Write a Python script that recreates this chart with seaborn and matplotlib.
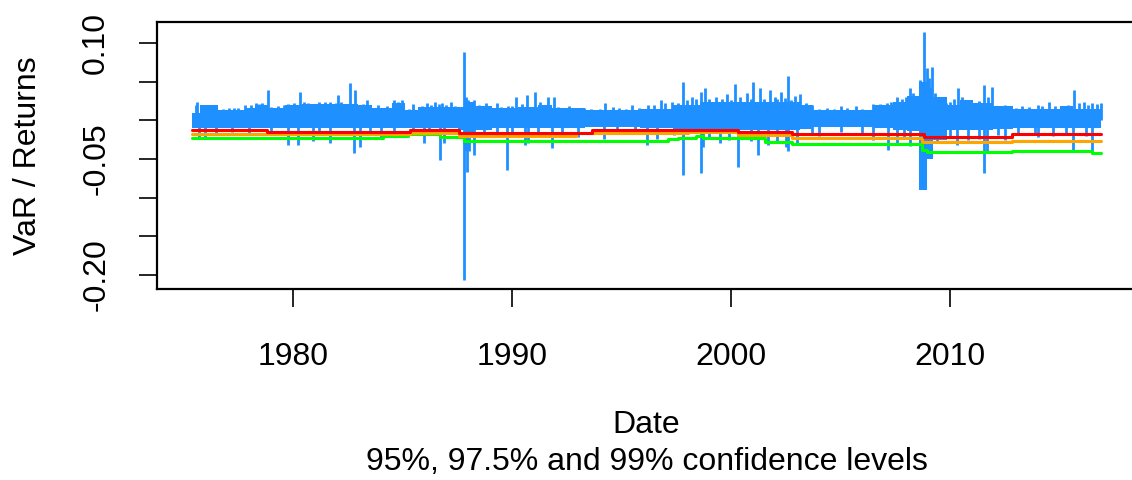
import numpy as np
import pandas as pd
import matplotlib
matplotlib.use("Agg")
import matplotlib.pyplot as plt
import seaborn as sns

# ---- data (decimal years, returns) ----
# dense body of daily returns (upper / lower envelope, step segments)
band_years = [1975.40, 1975.75, 1976.59, 1977.81, 1978.27, 1978.88, 1979.64, 1980.40, 1982.98,
              1983.59, 1984.51, 1985.12, 1985.72, 1987.55, 1987.80, 1988.10, 1988.31, 1989.07,
              1990.29, 1991.20, 1991.81, 1993.33, 1995.84, 1997.36, 1998.58, 2000.25, 2003.15,
              2003.75, 2006.49, 2007.41, 2008.02, 2008.60, 2008.95, 2009.23, 2009.84, 2010.45,
              2011.06, 2011.97, 2012.89, 2015.02, 2015.63, 2016.89]
band_hi = [0.010, 0.0196, 0.013, 0.0153, 0.0196, 0.0153, 0.0196, 0.021, 0.0196,
           0.0153, 0.022, 0.013, 0.0175, 0.017, 0.023, 0.023, 0.0185, 0.0153,
           0.0175, 0.020, 0.0153, 0.013, 0.0142, 0.0196, 0.024, 0.024, 0.0196,
           0.013, 0.0196, 0.024, 0.032, 0.050, 0.042, 0.030, 0.0196, 0.026,
           0.022, 0.018, 0.014, 0.018, 0.015, 0.015]
band_lo = [-0.010, -0.010, -0.010, -0.010, -0.010, -0.010, -0.010, -0.010, -0.010,
           -0.010, -0.010, -0.010, -0.010, -0.012, -0.040, -0.020, -0.012, -0.010,
           -0.010, -0.010, -0.010, -0.009, -0.010, -0.011, -0.013, -0.013, -0.011,
           -0.009, -0.010, -0.012, -0.014, -0.090, -0.050, -0.025, -0.013, -0.013,
           -0.012, -0.011, -0.010, -0.010, -0.010, -0.010]

up_years = [1975.6, 1976.0, 1976.5, 1977.3, 1977.81, 1978.3, 1978.6, 1978.86, 1979.6, 1979.9,
            1980.32, 1980.7, 1981.2, 1981.7, 1982.05, 1982.35, 1982.60, 1982.83, 1983.4, 1983.9,
            1984.61, 1984.98, 1985.5, 1986.1, 1986.5, 1986.8, 1987.2, 1987.81, 1987.9, 1988.26,
            1988.8, 1989.3, 1989.8, 1990.2, 1990.68, 1991.05, 1991.64, 1991.9, 1992.6, 1993.3,
            1994.25, 1994.9, 1995.48, 1996.2, 1996.8, 1997.3, 1997.81, 1998.2, 1998.63, 1998.81,
            1999.3, 1999.82, 2000.18, 2000.4, 2000.73, 2001.0, 2001.32, 2001.78, 2002.0, 2002.28,
            2002.6, 2002.9, 2003.15, 2003.7, 2004.4, 2005.0, 2005.7, 2006.5, 2007.1, 2007.6,
            2008.0, 2008.17, 2008.5, 2008.81, 2008.95, 2009.18, 2009.6, 2010.0, 2010.37, 2010.7,
            2011.1, 2011.55, 2011.92, 2012.5, 2013.3, 2014.0, 2014.5, 2015.2, 2015.66, 2016.1,
            2016.5, 2016.89,
            1975.55, 1975.9, 1976.2, 1976.8, 1977.1, 1977.5, 1978.1, 1978.45, 1979.0, 1979.3,
            1979.75, 1980.05, 1980.5, 1980.95, 1981.45, 1981.95, 1982.2, 1983.2, 1983.7, 1984.3,
            1984.8, 1985.3, 1985.9, 1986.3, 1986.65, 1987.0, 1987.4, 1988.0, 1988.5, 1989.0,
            1989.5, 1990.0, 1990.45, 1991.3, 1992.1, 1992.9, 1993.6, 1994.0, 1994.6, 1995.2,
            1995.8, 1996.5, 1997.0, 1997.6, 1998.0, 1998.4, 1999.0, 1999.6, 2000.0, 2000.9,
            2001.5, 2002.1, 2002.45, 2002.75, 2003.4, 2004.0, 2004.7, 2005.3, 2006.0, 2006.8,
            2007.3, 2007.8, 2008.3, 2008.65, 2009.05, 2009.3, 2009.8, 2010.2, 2010.55, 2010.9,
            2011.3, 2011.75, 2012.2, 2012.7, 2013.0, 2013.6, 2014.2, 2014.8, 2015.4, 2015.9,
            2016.3, 2016.7]
up_vals = [0.024, 0.018, 0.017, 0.016, 0.020, 0.022, 0.022, 0.039, 0.020, 0.020,
           0.037, 0.022, 0.024, 0.024, 0.033, 0.021, 0.048, 0.039, 0.026, 0.020,
           0.026, 0.026, 0.021, 0.022, 0.024, 0.022, 0.024, 0.088, 0.030, 0.026,
           0.022, 0.022, 0.018, 0.030, 0.033, 0.037, 0.030, 0.030, 0.018, 0.016,
           0.022, 0.016, 0.020, 0.020, 0.026, 0.024, 0.049, 0.030, 0.037, 0.042,
           0.030, 0.034, 0.047, 0.030, 0.035, 0.049, 0.042, 0.039, 0.030, 0.037,
           0.057, 0.032, 0.034, 0.020, 0.016, 0.018, 0.018, 0.021, 0.022, 0.030,
           0.030, 0.042, 0.031, 0.114, 0.068, 0.069, 0.030, 0.024, 0.042, 0.026,
           0.022, 0.046, 0.043, 0.020, 0.018, 0.020, 0.023, 0.018, 0.039, 0.024,
           0.022, 0.022,
           0.020, 0.016, 0.015, 0.014, 0.016, 0.016, 0.020, 0.021, 0.017, 0.018,
           0.021, 0.022, 0.023, 0.021, 0.023, 0.022, 0.024, 0.021, 0.016, 0.018,
           0.024, 0.015, 0.019, 0.020, 0.021, 0.020, 0.019, 0.026, 0.020, 0.019,
           0.017, 0.019, 0.021, 0.024, 0.017, 0.016, 0.014, 0.015, 0.017, 0.015,
           0.016, 0.020, 0.022, 0.022, 0.026, 0.028, 0.027, 0.028, 0.026, 0.027,
           0.028, 0.027, 0.029, 0.026, 0.022, 0.015, 0.015, 0.016, 0.015, 0.021,
           0.024, 0.028, 0.035, 0.052, 0.055, 0.035, 0.022, 0.028, 0.030, 0.025,
           0.025, 0.030, 0.018, 0.018, 0.016, 0.017, 0.018, 0.019, 0.020, 0.022,
           0.020, 0.021]

down_years = [1975.7, 1976.0, 1979.77, 1980.23, 1980.9, 1981.69, 1982.79, 1983.06, 1984.0, 1985.98,
              1986.71, 1986.9, 1987.81, 1987.95, 1988.05, 1988.26, 1989.77, 1990.6, 1990.75, 1991.83,
              1993.0, 1994.2, 1996.16, 1996.6, 1997.81, 1998.63, 1998.7, 1999.5, 2000.32, 2001.23,
              2001.7, 2002.5, 2002.6, 2004.0, 2006.5, 2007.17, 2007.6, 2008.17, 2009.1, 2010.3,
              2011.55, 2011.7, 2012.5, 2014.0, 2015.62, 2016.48,
              1976.5, 1977.2, 1978.0, 1979.0, 1981.2, 1983.5, 1984.6, 1985.5, 1986.2, 1988.7,
              1989.3, 1990.0, 1991.2, 1992.3, 1994.8, 1995.6, 1997.4, 1999.0, 1999.9, 2000.9,
              2002.1, 2003.0, 2003.7, 2005.0, 2006.0, 2007.9, 2009.4, 2010.0, 2010.8, 2011.3,
              2012.2, 2013.1, 2013.9, 2014.7, 2015.3, 2016.2]
down_vals = [-0.023, -0.023, -0.032, -0.032, -0.027, -0.029, -0.042, -0.035, -0.022, -0.029,
             -0.051, -0.029, -0.207, -0.067, -0.040, -0.045, -0.064, -0.032, -0.030, -0.036,
             -0.022, -0.024, -0.032, -0.024, -0.071, -0.068, -0.035, -0.030, -0.060, -0.045,
             -0.032, -0.035, -0.040, -0.020, -0.025, -0.038, -0.030, -0.033, -0.049, -0.032,
             -0.068, -0.040, -0.025, -0.022, -0.038, -0.041,
             -0.016, -0.015, -0.016, -0.015, -0.017, -0.016, -0.016, -0.015, -0.017, -0.018,
             -0.017, -0.018, -0.017, -0.016, -0.016, -0.015, -0.019, -0.022, -0.025, -0.027,
             -0.028, -0.030, -0.016, -0.015, -0.016, -0.024, -0.030, -0.022, -0.026, -0.024,
             -0.019, -0.018, -0.017, -0.020, -0.018, -0.020]

red_years = [1975.4, 1978.8, 1985.35, 1987.6, 1993.65, 2000.3, 2002.8, 2008.8, 2012.83, 2016.89]
red_vals = [-0.0132, -0.0155, -0.0125, -0.0168, -0.0125, -0.0155, -0.0181, -0.0212, -0.0181, -0.0181]

orange_years = [1975.4, 1985.35, 1987.6, 1992.9, 1998.04, 2000.3, 2002.8, 2008.7, 2012.83, 2016.89]
orange_vals = [-0.0180, -0.0170, -0.0200, -0.0170, -0.0155, -0.0190, -0.0225, -0.0277, -0.0268, -0.0268]

green_years = [1975.4, 1984.1, 1985.25, 1986.7, 1987.8, 1997.1, 1997.6, 1998.4, 1998.7, 2001.55,
               2002.8, 2008.7, 2008.95, 2012.83, 2016.5, 2016.89]
green_vals = [-0.0233, -0.0203, -0.0181, -0.0220, -0.0265, -0.0246, -0.0230, -0.0203, -0.0233, -0.0277,
              -0.0310, -0.0384, -0.0406, -0.0393, -0.0420, -0.0420]

y_ticks = [-0.20, -0.15, -0.10, -0.05, 0.00, 0.05, 0.10]
y_labels = ["-0.20", "", "", "-0.05", "", "", "0.10"]
x_ticks = [1980, 1990, 2000, 2010]
x_labels = ["1980", "1990", "2000", "2010"]

# ---- figure ----
sns.set_theme(style="white")
plt.rcParams["font.family"] = ["Liberation Sans", "DejaVu Sans"]

W, H = 1132, 480
fig = plt.figure(figsize=(W / 100, H / 100), dpi=100)
ax = fig.add_axes([157 / W, (H - 289) / H, (1136 - 157) / W, (289 - 22) / H])

blue = "#1E90FF"
ax.fill_between(band_years, band_lo, band_hi, step="post", color=blue, lw=0, zorder=1)
ax.vlines(up_years, 0, up_vals, color=blue, lw=2.0, zorder=1)
ax.vlines(down_years, 0, down_vals, color=blue, lw=2.0, zorder=1)

for yrs, vals, col in [(green_years, green_vals, "#00FF00"),
                       (orange_years, orange_vals, "#FFA500"),
                       (red_years, red_vals, "#FF0000")]:
    df = pd.DataFrame({"year": yrs, "var": vals})
    sns.lineplot(data=df, x="year", y="var", ax=ax, color=col, lw=2.2,
                 drawstyle="steps-post", zorder=3)

ax.set_xlim(1973.79, 2018.49)
ax.set_ylim(-0.2182, 0.1271)

ax.set_xticks(x_ticks)
ax.set_xticklabels(x_labels)
ax.set_yticks(y_ticks)
ax.set_yticklabels(y_labels, rotation=90, va="center")

for s in ax.spines.values():
    s.set_color("black")
    s.set_linewidth(1.6)

ax.tick_params(axis="both", direction="out", length=13, width=1.2, color="black",
               labelsize=23, labelcolor="black", bottom=True, left=True)
ax.tick_params(axis="x", pad=25)
ax.tick_params(axis="y", pad=20)

ax.set_xlabel("Date", fontsize=23, color="black")
ax.xaxis.set_label_coords(0.5, (289 - 425) / 267)
ax.xaxis.label.set_va("center")
ax.set_ylabel("VaR / Returns", fontsize=23, color="black")
ax.yaxis.set_label_coords((28 - 157) / 979, 0.5)
ax.yaxis.label.set_va("center")

fig.text((157 + 1136) / 2 / W, 1 - 462 / H, "95%, 97.5% and 99% confidence levels",
         ha="center", va="center", fontsize=23, color="black")

fig.savefig("out.png", dpi=100, facecolor="white")
